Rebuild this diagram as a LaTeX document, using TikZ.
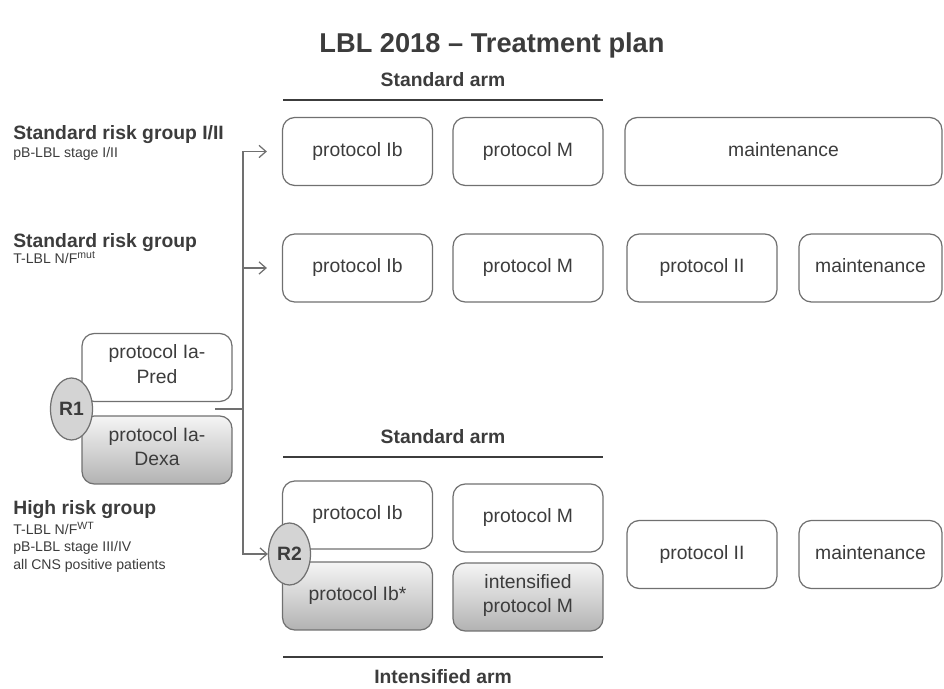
\documentclass[tikz,border=0pt]{standalone}
\usepackage{fontspec}
\setmainfont{Liberation Sans}
\usetikzlibrary{arrows.meta,shapes.geometric}

\definecolor{boxgray}{HTML}{707070}
\definecolor{txtgray}{HTML}{3C3C3C}
\definecolor{randgray}{HTML}{D4D4D4}

\tikzset{
  plan/.style={draw=boxgray, line width=0.7pt, rounded corners=7pt, minimum width=3cm,
    minimum height=1.36cm, inner sep=0pt, align=center, text=txtgray,
    font=\fontsize{11}{14}\selectfont, execute at begin node=\strut},
  planshade/.style={plan, top color=black!4, bottom color=black!30},
  randnode/.style={ellipse, draw=boxgray, line width=0.7pt, fill=randgray, inner sep=0pt,
    minimum width=0.84cm, minimum height=1.24cm, text=txtgray,
    font=\bfseries\fontsize{11}{13}\selectfont},
  armtitle/.style={text=txtgray, font=\bfseries\fontsize{11}{13}\selectfont},
  armline/.style={draw=txtgray, line width=1pt},
  grouphead/.style={anchor=west, inner sep=0pt, text=txtgray, font=\bfseries\fontsize{11}{13}\selectfont},
  groupsub/.style={anchor=west, inner sep=0pt, text=txtgray, align=left, font=\fontsize{8}{9.8}\selectfont},
  conn/.style={draw=boxgray, line width=0.7pt},
  arr/.style={conn, -{Straight Barb[length=4pt,width=7pt]}}
}

\begin{document}
\begin{tikzpicture}[x=0.02cm, y=-0.02cm]
  \useasboundingbox (0,0) rectangle (944,689);

  % title
  \node[text=txtgray, font=\bfseries\fontsize{15.5}{18}\selectfont] (title) at (492,45) {LBL 2018 -- Treatment plan};

  % risk groups
  \node[grouphead] (srg1) at (13,135) {Standard risk group I/II};
  \node[groupsub] (srg1sub) at (13,154) {pB-LBL stage I/II};
  \node[grouphead] (srg2) at (13,243) {Standard risk group};
  \node[groupsub] (srg2sub) at (13,258) {T-LBL N/F\textsuperscript{mut}};
  \node[grouphead] (hrg) at (13,510) {High risk group};
  \node[groupsub, anchor=north west] (hrgsub) at (13,522)
    {T-LBL N/F\textsuperscript{WT}\\pB-LBL stage III/IV\\all CNS positive patients};

  % upper standard arm
  \node[armtitle] (armtop) at (443,80) {Standard arm};
  \draw[armline] (283,100) -- (603,100);

  \node[plan] (ib1) at (357.5,151.5) {protocol Ib};
  \node[plan] (m1) at (528,151.5) {protocol M};
  \node[plan, minimum width=6.34cm] (mt1) at (783.5,151.5) {maintenance};

  \node[plan] (ib2) at (357.5,268) {protocol Ib};
  \node[plan] (m2) at (528,268) {protocol M};
  \node[plan] (ii2) at (702,268) {protocol II};
  \node[plan, minimum width=2.86cm] (mt2) at (870.5,268) {maintenance};

  % induction with R1
  \node[plan] (pred) at (157,367.5) {protocol Ia-\\Pred};
  \node[planshade] (dexa) at (157,450) {protocol Ia-\\Dexa};
  \node[randnode] (r1) at (71.5,409) {R1};

  % lower arms
  \node[armtitle] (armstd) at (443,437) {Standard arm};
  \draw[armline] (283,457) -- (603,457);

  \node[plan] (ib3) at (357.5,515) {protocol Ib};
  \node[plan] (m3) at (528,518) {protocol M};
  \node[planshade] (ib4) at (357.5,596) {protocol Ib*};
  \node[planshade] (im4) at (528,597) {intensified\\protocol M};
  \node[randnode] (r2) at (289.5,554) {R2};

  \node[plan] (ii3) at (702,554.5) {protocol II};
  \node[plan, minimum width=2.86cm] (mt3) at (870.5,554.5) {maintenance};

  \draw[armline] (283,657) -- (603,657);
  \node[armtitle] (armint) at (443,677) {Intensified arm};

  % connectors
  \coordinate (r1out) at (215,409);
  \coordinate (split) at (243,409);
  \draw[conn] (r1out) -- (split);
  \draw[arr, shorten >=0.3cm] (split) |- (ib1.west);
  \draw[arr, shorten >=0.3cm] (split) |- (ib2.west);
  \draw[arr] (split) |- (r2.west);
\end{tikzpicture}
\end{document}
